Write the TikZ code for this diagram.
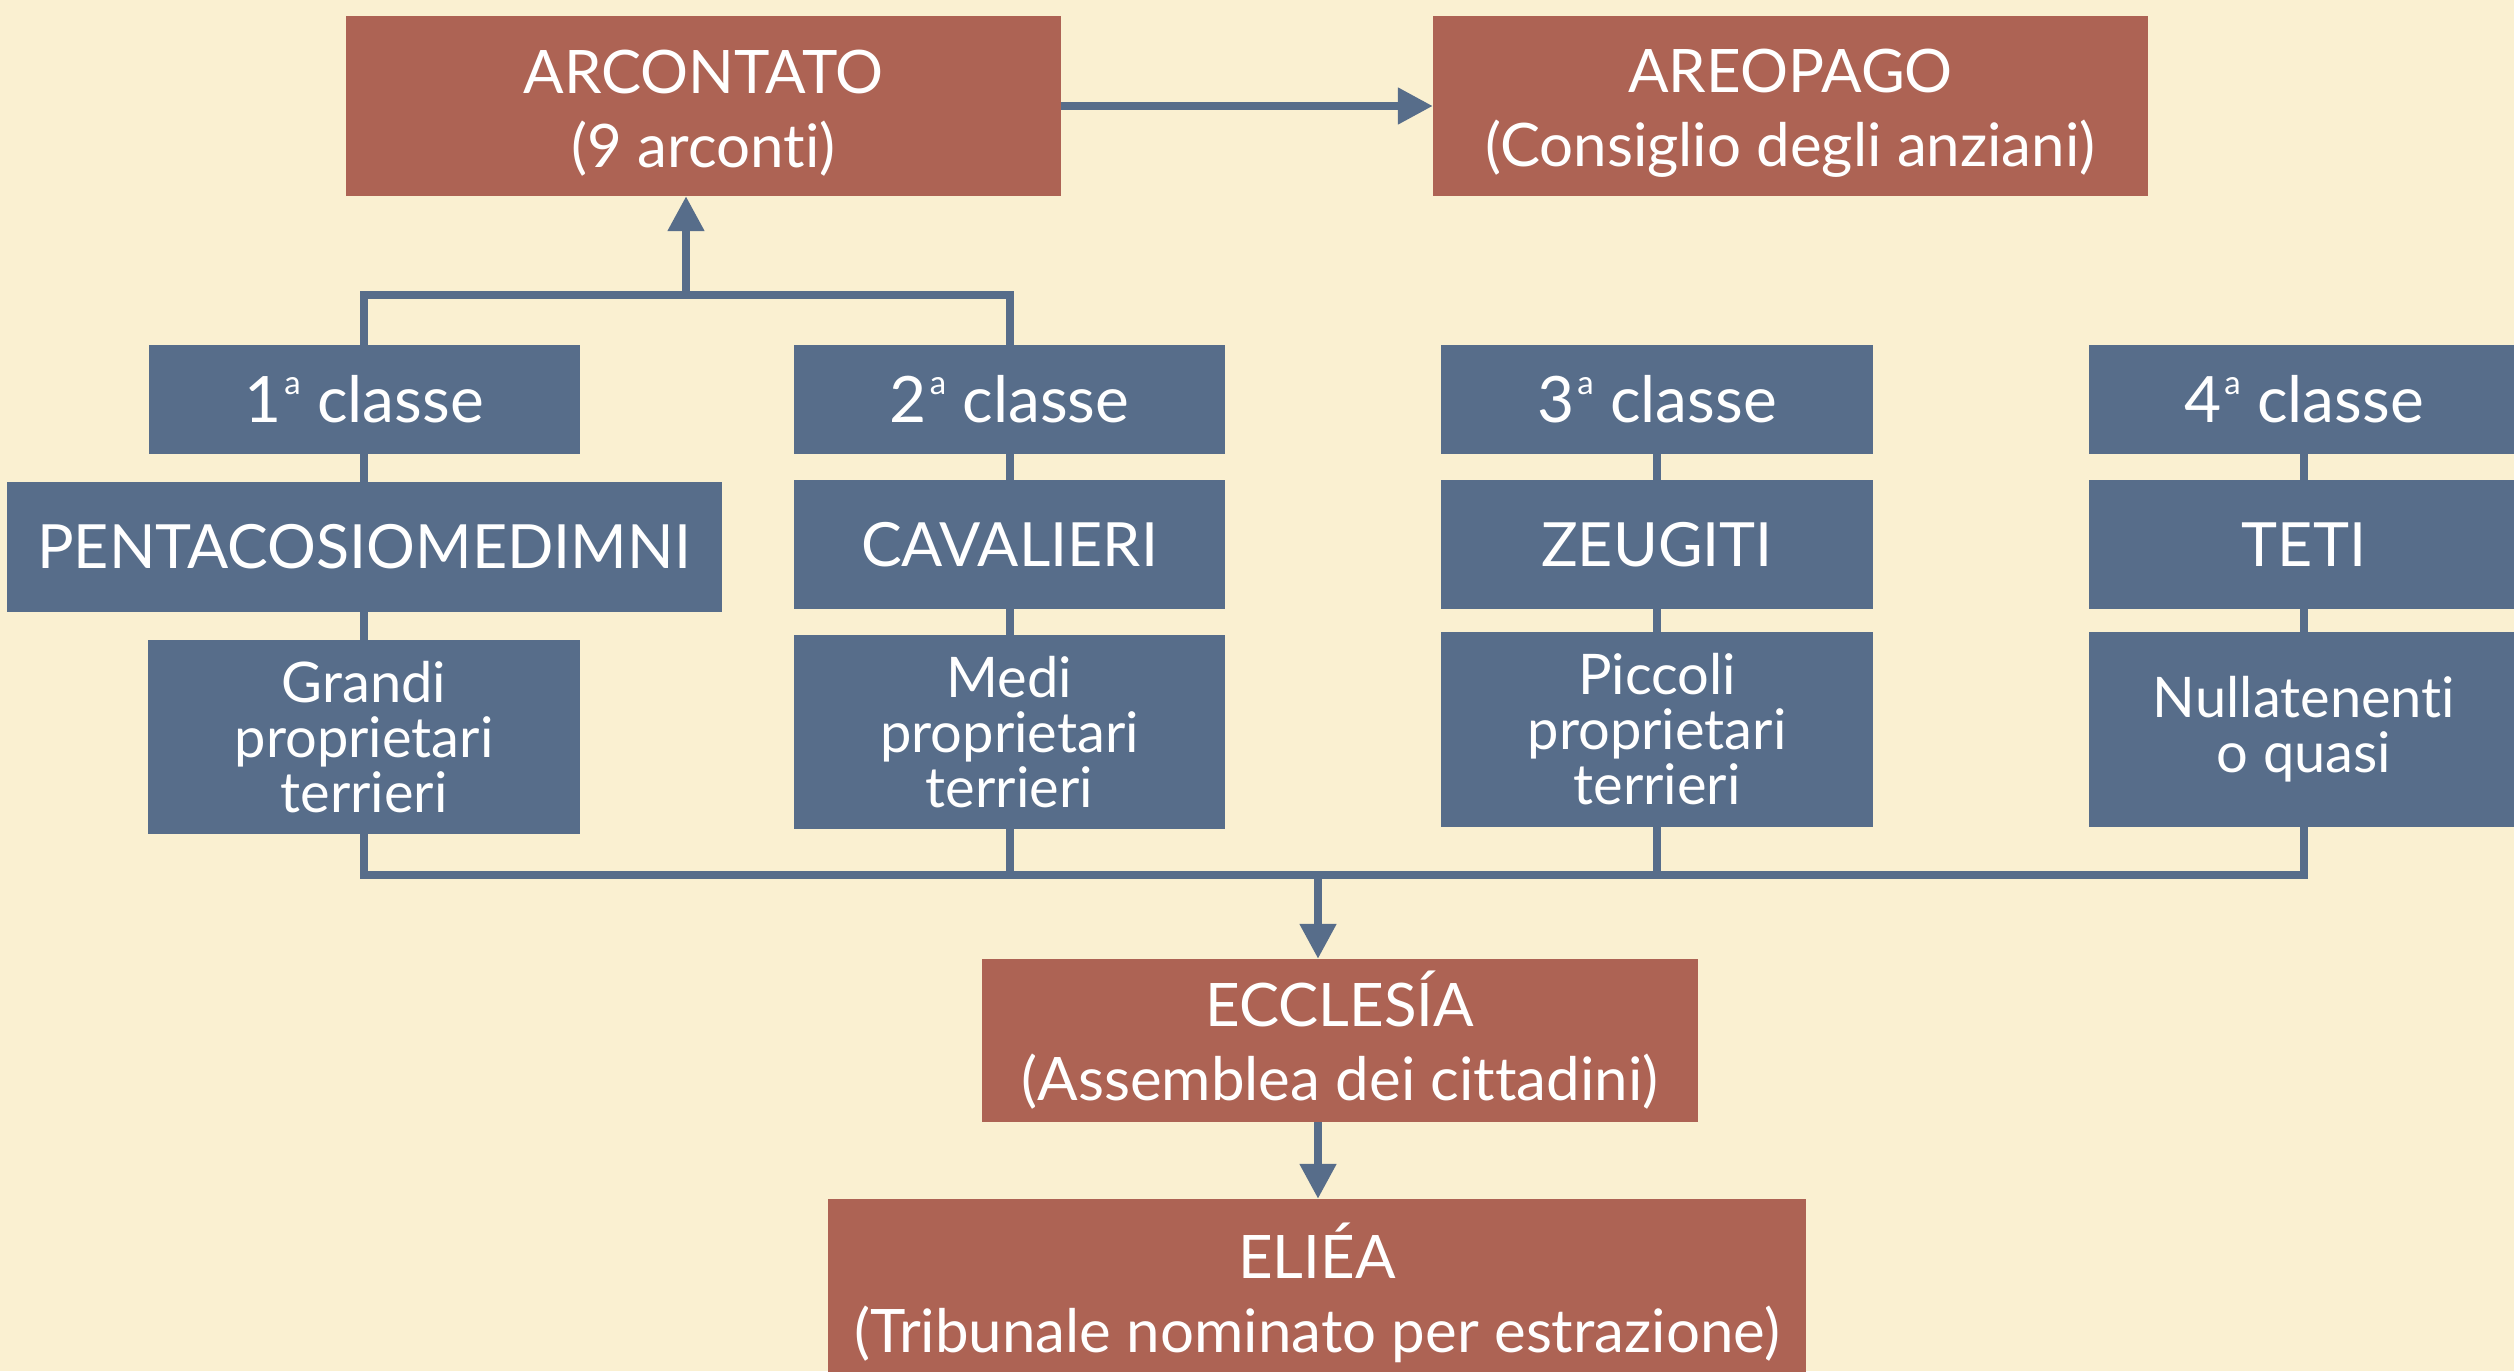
\documentclass[tikz,border=0pt]{standalone}
\usepackage{fontspec}
\setmainfont{Lato}[Ligatures={NoCommon,NoContextual}]
\usetikzlibrary{arrows.meta}
\definecolor{cBg}{HTML}{FAF0D1}
\definecolor{cRed}{HTML}{AD6354}
\definecolor{cBlue}{HTML}{576D8A}
\newcommand\tstrut{\rule{0pt}{57pt}}
\newcommand\ord{\kern3pt\raisebox{28pt}{\fontsize{33}{33}\selectfont a}}
\begin{document}
\begin{tikzpicture}[x=1pt,y=-1pt,
  titlebox/.style={fill=cRed, text=white, align=center, inner sep=0pt,
    font=\fontsize{60}{74}\selectfont},
  headbox/.style={fill=cBlue, text=white, align=center, inner sep=0pt,
    font=\fontsize{64}{64}\selectfont},
  namebox/.style={fill=cBlue, text=white, align=center, inner sep=0pt,
    font=\fontsize{61}{61}\selectfont},
  descbox/.style={fill=cBlue, text=white, align=center, inner sep=0pt,
    font=\fontsize{56}{55}\selectfont},
  conn/.style={draw=cBlue, line width=8pt},
  arr/.style={draw=cBlue, line width=8pt, -{Triangle[length=35pt,width=35pt]}}
]
\useasboundingbox (0,0) rectangle (2514,1371);
\fill[cBg] (0,0) rectangle (2514,1371);

% title boxes
\node[titlebox, minimum width=715pt, minimum height=180pt] (arc) at (703.5,106)
  {\tstrut ARCONTATO\\(9 arconti)};
\node[titlebox, minimum width=715pt, minimum height=180pt] (areo) at (1790.5,106)
  {\tstrut AREOPAGO\\(Consiglio degli anziani)};
\node[titlebox, minimum width=716pt, minimum height=163pt] (ecc) at (1340,1040.5)
  {ECCLESÍA\\(Assemblea dei cittadini)};
\node[titlebox, minimum width=978pt, minimum height=187pt] (eli) at (1317,1292.5)
  {ELIÉA\\(Tribunale nominato per estrazione)};

% class headers
\node[headbox, minimum width=431pt, minimum height=109pt] (h1) at (364,399.5) {1\ord\ classe};
\node[headbox, minimum width=431pt, minimum height=109pt] (h2) at (1009.5,399.5) {2\ord\ classe};
\node[headbox, minimum width=432pt, minimum height=109pt] (h3) at (1657,399.5) {3\ord\ classe};
\node[headbox, minimum width=430pt, minimum height=109pt] (h4) at (2304,399.5) {4\ord\ classe};

% class names
\node[namebox, minimum width=715pt, minimum height=130pt] (m1) at (364,547) {PENTACOSIOMEDIMNI};
\node[namebox, minimum width=431pt, minimum height=129pt] (m2) at (1009.5,544.5) {CAVALIERI};
\node[namebox, minimum width=432pt, minimum height=129pt] (m3) at (1657,544.5) {ZEUGITI};
\node[namebox, minimum width=430pt, minimum height=129pt] (m4) at (2304,544.5) {TETI};

% descriptions
\node[descbox, minimum width=432pt, minimum height=194pt] (b1) at (364,737) {Grandi\\proprietari\\terrieri};
\node[descbox, minimum width=431pt, minimum height=194pt] (b2) at (1009.5,732) {Medi\\proprietari\\terrieri};
\node[descbox, minimum width=432pt, minimum height=195pt] (b3) at (1657,729.5) {Piccoli\\proprietari\\terrieri};
\node[descbox, minimum width=430pt, minimum height=195pt] (b4) at (2304,729.5) {Nullatenenti\\o quasi};

% vertical connectors inside columns
\foreach \i in {1,2,3,4}{
  \draw[conn] (h\i.south) -- (m\i.north -| h\i.south);
  \draw[conn] (m\i.south -| h\i.south) -- (b\i.north -| h\i.south);
}

% top bar to ARCONTATO
\coordinate (tb) at (686,295);
\draw[conn] (h1.north) |- (tb) -| (h2.north);
\draw[arr] (tb) -- (tb |- arc.south);

% ARCONTATO -> AREOPAGO
\draw[arr] (arc.east) -- (areo.west);

% bottom bar to ECCLESIA
\coordinate (bb) at (1318,875);
\draw[conn] (b1.south) |- (bb) -| (b4.south);
\draw[conn] (b2.south) -- (b2.south |- bb);
\draw[conn] (b3.south) -- (b3.south |- bb);
\draw[arr] (bb) -- (bb |- ecc.north);
\draw[arr] (bb |- ecc.south) -- (bb |- eli.north);
\end{tikzpicture}
\end{document}
